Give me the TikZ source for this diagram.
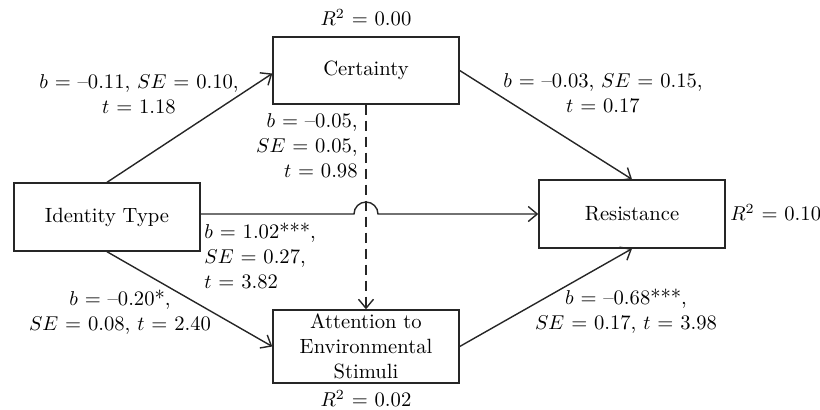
\documentclass[tikz,border=0pt]{standalone}
\usetikzlibrary{arrows.meta,calc}
\begin{document}
\begin{tikzpicture}[x=0.5pt,y=-0.5pt,
  font=\fontsize{10.3pt}{12.4pt}\selectfont,
  box/.style={draw=black!85,line width=0.7pt,minimum width=93pt,inner sep=0pt,align=center},
  conn/.style={draw=black!85,line width=0.7pt,-{Straight Barb[length=4.5pt,width=7.5pt]}},
  lbl/.style={inner sep=0pt}]
\useasboundingbox (0,0) rectangle (820,409);
\node[box,minimum height=33.5pt] (cert) at (366,70.5) {Certainty};
\node[box,minimum height=34pt] (id) at (107,217) {Identity Type};
\node[box,minimum height=34pt] (res) at (632,214) {Resistance};
\node[box,minimum height=36.5pt] (att) at (366,346.5) {Attention to\\Environmental\\Stimuli};

\node[lbl] (r0) at (366,18) {$R^2$ = 0.00};
\node[lbl] (r2) at (366,399) {$R^2$ = 0.02};
\node[lbl,anchor=west] (r1) at (730,213) {$R^2$ = 0.10};

\draw[conn] (id.north) -- ([yshift=-1.5pt]cert.west);
\draw[conn] (cert.east) -- (res.north);
\draw[conn] (id.south) -- (att.west);
\draw[conn] (att.east) -- (res.south);
\draw[conn,dashed,dash pattern=on 5pt off 3pt] (cert.south) -- (att.north);
\draw[conn] (id.east |- res.west) -- ($(cert.south |- res.west)+(-12,0)$)
   arc[start angle=180,end angle=0,radius=6pt] -- (res.west);

\node[lbl,align=center] (l1) at (139,94) {$b$ = --0.11, $SE$ = 0.10,\\$t$ = 1.18};
\node[lbl,align=right,anchor=east] (l2) at (358,146) {$b$ = --0.05,\\$SE$ = 0.05,\\$t$ = 0.98};
\node[lbl,align=center] (l3) at (603,93) {$b$ = --0.03, $SE$ = 0.15,\\$t$ = 0.17};
\node[lbl,align=left,anchor=west] (l4) at (204,256) {$b$ = 1.02***,\\$SE$ = 0.27,\\$t$ = 3.82};
\node[lbl,align=center] (l5) at (120,312) {$b$ = --0.20*,\\$SE$ = 0.08, $t$ = 2.40};
\node[lbl,align=center] (l6) at (626,311) {$b$ = --0.68***,\\$SE$ = 0.17, $t$ = 3.98};
\end{tikzpicture}
\end{document}
